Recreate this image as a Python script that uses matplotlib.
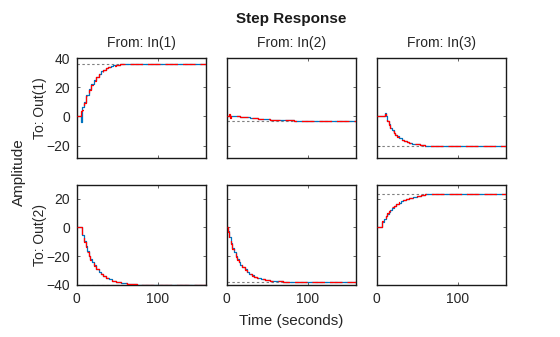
import matplotlib
matplotlib.use("Agg")
import matplotlib.pyplot as plt

plt.rcParams['font.family'] = ['Liberation Sans', 'DejaVu Sans']

# ---- data ----
col_titles = ["From: In(1)", "From: In(2)", "From: In(3)"]
row_labels = ["To: Out(1)", "To: Out(2)"]
x_ticks = [0, 100]
row1_yticks = [-20, 0, 20, 40]
row2_yticks = [-40, -20, 0, 20]
final_values = [[36, -3.3, -20], [-40, -38, 23.4]]

t11 = [0, 5, 6, 9, 12, 15, 18, 21, 24, 27, 30, 33, 36, 39, 42, 45, 48, 51, 54, 57, 160]
blue11 = [0, -4, 6.5, 10, 14.8, 18.7, 22, 24.8, 27.2, 29.2, 30.8, 32, 33, 33.8, 34.4, 34.9, 35.2, 35.5, 35.7, 36, 36]
red11 = [0, 3.6, 4.5, 9.4, 14.3, 18.2, 21.6, 24.5, 26.9, 29, 30.6, 31.8, 32.9, 33.7, 34.3, 34.8, 35.2, 35.5, 35.6, 36, 36]

t12 = [0, 3, 4, 5, 17, 29, 39, 54, 83, 160]
blue12 = [0, 0.3, 0, 0, -0.6, -1.3, -2.0, -2.7, -3.3, -3.3]
red12 = [0, 1.4, -0.8, 0, -0.7, -1.4, -2.1, -2.7, -3.3, -3.3]

t13 = [0, 10, 11, 13, 15, 17, 19, 21, 23, 25, 28, 31, 34, 37, 40, 44, 48, 53, 60, 160]
blue13 = [0, 2, 0.2, -2.9, -5.5, -7.7, -9.6, -11.2, -12.6, -13.7, -15.1, -16.2, -17.0, -17.7, -18.2, -18.7, -19.1, -19.4, -20, -20]
red13 = [0, 1.5, -0.5, -3.3, -5.9, -8.0, -9.9, -11.5, -12.8, -13.9, -15.3, -16.3, -17.1, -17.8, -18.3, -18.8, -19.2, -19.5, -20, -20]

t21 = [0, 6, 7, 9, 11, 13, 15, 17, 19, 21, 24, 27, 30, 33, 36, 40, 44, 49, 55, 62, 68, 75, 160]
blue21 = [0, -4, -5, -9.4, -13.2, -16.5, -19.5, -22, -24.3, -26.2, -28.7, -30.8, -32.4, -33.8, -34.9, -36.1, -37, -37.9, -38.6, -39.1, -39.5, -40, -40]
red21 = [0, -2.5, -5.6, -9.9, -13.7, -17, -19.9, -22.4, -24.6, -26.5, -29, -31, -32.6, -34, -35.1, -36.2, -37.1, -38, -38.7, -39.1, -39.5, -40, -40]

t22 = [0, 1, 3, 5, 7, 9, 11, 13, 15, 17, 19, 22, 25, 28, 31, 34, 38, 42, 47, 53, 60, 70, 160]
blue22 = [0, -2.5, -6.9, -10.8, -14.2, -17.1, -19.8, -22, -24, -25.8, -27.3, -29.2, -30.8, -32.1, -33.2, -34.1, -35, -35.7, -36.4, -36.9, -37.4, -38, -38]
red22 = [0, -3.4, -7.6, -11.4, -14.7, -17.6, -20.2, -22.4, -24.3, -26.1, -27.6, -29.4, -31, -32.3, -33.4, -34.2, -35.1, -35.8, -36.5, -37, -37.4, -38, -38]

t23 = [0, 6, 7, 9, 11, 13, 15, 17, 19, 21, 24, 27, 30, 33, 36, 40, 45, 50, 55, 60, 160]
blue23 = [0, 2.4, 3.6, 5.8, 7.8, 9.5, 11, 12.4, 13.6, 14.7, 16.1, 17.3, 18.2, 19.1, 19.8, 20.6, 21.3, 21.8, 22.4, 23.4, 23.4]
red23 = [0, 0, 4.2, 6.3, 8.2, 9.9, 11.4, 12.7, 13.9, 15, 16.3, 17.5, 18.4, 19.2, 19.9, 20.7, 21.4, 21.9, 22.4, 23.4, 23.4]

times = [[t11, t12, t13], [t21, t22, t23]]
blues = [[blue11, blue12, blue13], [blue21, blue22, blue23]]
reds = [[red11, red12, red13], [red21, red22, red23]]
ylims = [(-28.5, 40), (-40, 29.5)]
yticks = [row1_yticks, row2_yticks]
xlim = (0, 160)

# ---- layout ----
W, H = 560, 337
fig = plt.figure(figsize=(W / 100, H / 100), dpi=100)
lefts = [76.7, 226.7, 376.7]
width = 129.5
bottoms = [H - 158, H - 285]
height = 100

text_color = "#262626"
blue_c = "#0072BD"
red_c = "#FF0000"

for r in range(2):
    for c in range(3):
        ax = fig.add_axes([lefts[c] / W, bottoms[r] / H, width / W, height / H])
        ax.axhline(final_values[r][c], color="#7f7f7f", lw=0.8,
                   linestyle=(0, (2.2, 2.2)), zorder=1)
        ax.plot(times[r][c], blues[r][c], drawstyle="steps-post", color=blue_c,
                lw=0.9, zorder=2)
        ax.plot(times[r][c], reds[r][c], drawstyle="steps-post", color=red_c,
                lw=0.9, linestyle=(0, (10, 4)), zorder=3)
        ax.set_xlim(*xlim)
        ax.set_ylim(*ylims[r])
        ax.set_xticks(x_ticks)
        ax.set_yticks(yticks[r])
        ax.tick_params(direction="in", length=2.5, width=0.5, colors=text_color,
                       labelsize=10, top=True, right=True, pad=5)
        for s in ax.spines.values():
            s.set_linewidth(1.0)
            s.set_color("#1a1a1a")
        if c != 0:
            ax.set_yticklabels([])
        if r != 1:
            ax.set_xticklabels([])
        if r == 0:
            ax.set_title(col_titles[c], fontsize=10, color=text_color, pad=8)

# row labels
fig.text(40 / W, (bottoms[0] + height / 2) / H, row_labels[0], ha="center", va="center",
         rotation=90, fontsize=10, color=text_color)
fig.text(40 / W, (bottoms[1] + height / 2) / H, row_labels[1], ha="center", va="center",
         rotation=90, fontsize=10, color=text_color)

fig.text(291 / W, 1 - 19 / H, "Step Response", ha="center", va="center",
         fontsize=11, fontweight="bold", color="#1a1a1a")
fig.text(19 / W, 1 - 172 / H, "Amplitude", ha="center", va="center",
         rotation=90, fontsize=11, color=text_color)
fig.text(291 / W, 1 - 321 / H, "Time (seconds)", ha="center", va="center",
         fontsize=11, color=text_color)

fig.savefig("out.png", dpi=100)
